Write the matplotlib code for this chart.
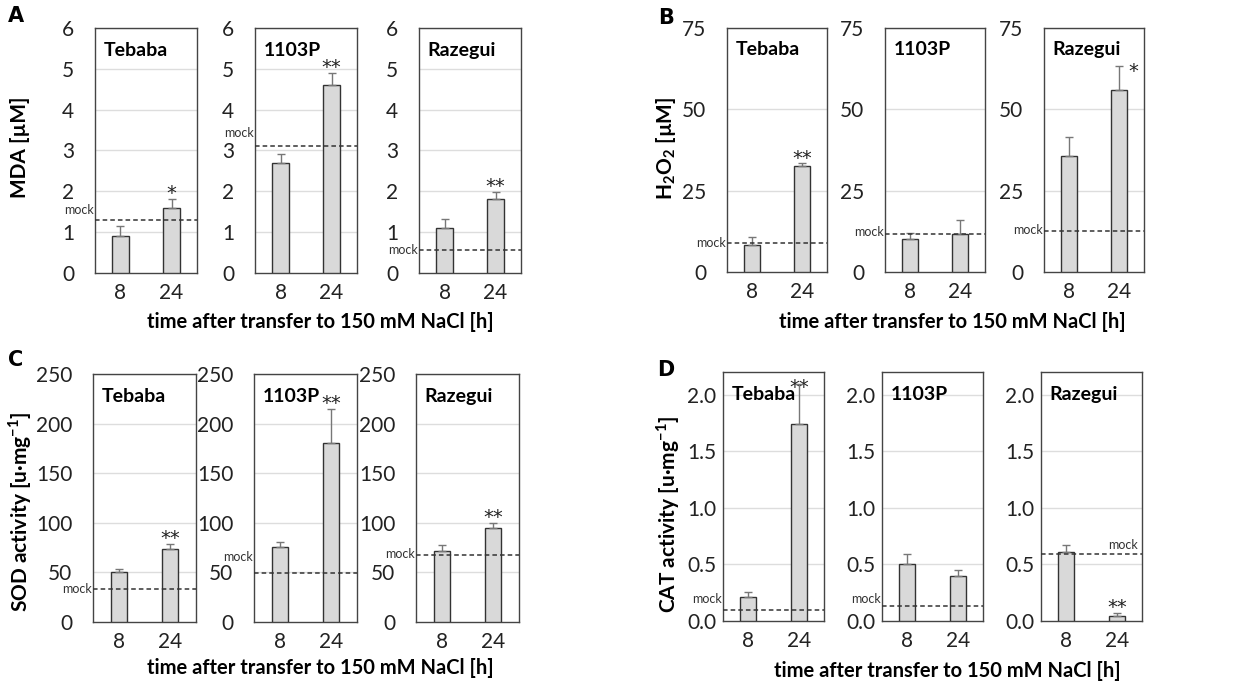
import numpy as np
import matplotlib
matplotlib.use('Agg')
import matplotlib.pyplot as plt

plt.rcParams['font.family'] = ['Lato', 'DejaVu Sans']
plt.rcParams['mathtext.fontset'] = 'custom'
plt.rcParams['mathtext.rm'] = 'Lato'
plt.rcParams['mathtext.bf'] = 'Lato:bold'

strains = ['Tebaba', '1103P', 'Razegui']
times = ['8', '24']

# A: MDA
mda_mean = [[0.91, 1.60], [2.70, 4.61], [1.11, 1.80]]
mda_err = [[0.24, 0.22], [0.22, 0.29], [0.22, 0.19]]
mda_mock = [1.31, 3.12, 0.57]
mda_sig = [['', '*'], ['', '**'], ['', '**']]

# B: H2O2
h2o2_mean = [[8.4, 32.5], [10.2, 11.8], [35.8, 55.8]]
h2o2_err = [[2.5, 0.9], [1.8, 4.1], [5.6, 7.6]]
h2o2_mock = [9.0, 11.8, 12.5]
h2o2_sig = [['', '**'], ['', ''], ['', '*']]

# C: SOD
sod_mean = [[50.5, 73.6], [75.3, 180.0], [72.0, 95.0]]
sod_err = [[2.8, 5.4], [5.4, 35.0], [6.0, 5.0]]
sod_mock = [33.0, 49.0, 67.6]
sod_sig = [['', '**'], ['', '**'], ['', '**']]

# D: CAT
cat_mean = [[0.215, 1.74], [0.50, 0.40], [0.61, 0.045]]
cat_err = [[0.045, 0.35], [0.09, 0.05], [0.06, 0.03]]
cat_mock = [0.10, 0.13, 0.59]
cat_sig = [['', '**'], ['', ''], ['', '**']]

W, H = 1238, 683
fig = plt.figure(figsize=(W / 100, H / 100), dpi=100)


def px_axes(left, top, width, bottom):
    return fig.add_axes([left / W, 1 - bottom / H, width / W, (bottom - top) / H])


def draw_panel(lefts, top, bottom, width, means, errs, mocks, sigs, ylim, yticks,
               fmt, mock_pos, ypad=15, star_right=(), star_dy=None):
    for i, name in enumerate(strains):
        ax = px_axes(lefts[i], top, width, bottom)
        x = np.arange(len(times))
        ax.bar(x, means[i], 0.32, color='#d9d9d9', edgecolor='#333333',
               linewidth=1.0, zorder=3,
               yerr=[[0, 0], errs[i]], error_kw=dict(ecolor='#777777', elinewidth=1,
                                                     capsize=3, capthick=1))
        ax.set_xlim(-0.5, 1.5)
        ax.set_ylim(*ylim)
        ax.set_yticks(yticks)
        ax.set_yticklabels([fmt.format(t) for t in yticks])
        ax.set_xticks(x)
        ax.set_xticklabels(times)
        ax.tick_params(length=0, labelsize=15, colors='#222222', pad=7)
        ax.tick_params(axis='y', pad=ypad)
        for t in yticks[1:]:
            ax.axhline(t, color='#dddddd', lw=1, zorder=0)
        for s in ax.spines.values():
            s.set_color('#444444')
            s.set_linewidth(1)
        ax.axhline(mocks[i], color='#333333', lw=1.1, ls=(0, (3, 2)), zorder=4)
        side, dy = mock_pos[i]
        if side == 'left':
            ax.annotate('mock', (-0.5, mocks[i]), xytext=(-1, dy), textcoords='offset points',
                        ha='right', va='center', fontsize=9, color='#333333',
                        annotation_clip=False)
        else:
            ax.annotate('mock', (1.5, mocks[i]), xytext=(-3, 7), textcoords='offset points',
                        ha='right', va='center', fontsize=9, color='#333333')
        ax.text(0.085, 0.91, name, transform=ax.transAxes, fontsize=14,
                fontweight='bold', va='center', ha='left')
        for j in range(len(times)):
            if sigs[i][j]:
                ytop = means[i][j] + errs[i][j]
                star = dict(fontsize=14, family='DejaVu Sans', color='#222222',
                            annotation_clip=False, textcoords='offset points')
                if (i, j) in star_right:
                    ax.annotate(sigs[i][j], (j, ytop), xytext=(7, -4),
                                ha='left', va='center', **star)
                else:
                    dy = star_dy.get((i, j), -3) if star_dy else -3
                    ax.annotate(sigs[i][j], (j, ytop), xytext=(0, dy),
                                ha='center', va='bottom', **star)


draw_panel([95, 255, 419], 28, 273, 102, mda_mean, mda_err, mda_mock, mda_sig,
           (0, 6), [0, 1, 2, 3, 4, 5, 6], '{:g}',
           [('left', 7), ('left', 9), ('left', 0)])
draw_panel([727, 885, 1044], 28, 272, 100, h2o2_mean, h2o2_err, h2o2_mock, h2o2_sig,
           (0, 75), [0, 25, 50, 75], '{:g}',
           [('left', 0), ('left', 1), ('left', 1)], star_right=[(2, 1)])
draw_panel([93, 254, 416], 374, 622, 103, sod_mean, sod_err, sod_mock, sod_sig,
           (0, 250), [0, 50, 100, 150, 200, 250], '{:g}',
           [('left', 0), ('left', 12), ('left', 1)])
draw_panel([723, 882, 1041], 372, 621, 101, cat_mean, cat_err, cat_mock, cat_sig,
           (0, 2.2), [0.0, 0.5, 1.0, 1.5, 2.0], '{:.1f}',
           [('left', 8), ('left', 5), ('right', 0)], ypad=5, star_dy={(0, 1): -9})

xlabel = 'time after transfer to 150 mM NaCl [h]'
lab = dict(fontsize=14.5, fontweight='bold', ha='center', va='center')
fig.text(320 / W, 1 - 322 / H, xlabel, **lab)
fig.text(952 / W, 1 - 322 / H, xlabel, **lab)
fig.text(320 / W, 1 - 668 / H, xlabel, **lab)
fig.text(947 / W, 1 - 671 / H, xlabel, **lab)

ylab = dict(fontsize=15, fontweight='bold', ha='center', va='center', rotation=90)
fig.text(20 / W, 1 - 147 / H, 'MDA [µM]', **ylab)
fig.text(666 / W, 1 - 148 / H, r'H$_\mathbf{2}$O$_\mathbf{2}$ [µM]', **ylab)
fig.text(20 / W, 1 - 512 / H, r'SOD activity [u·mg$^\mathbf{-1}$]', **ylab)
fig.text(668 / W, 1 - 515 / H, r'CAT activity [u·mg$^\mathbf{-1}$]', **ylab)

letters = dict(fontsize=15, fontweight='bold', ha='left', va='center', family='DejaVu Sans')
fig.text(8 / W, 1 - 16 / H, 'A', **letters)
fig.text(658 / W, 1 - 18 / H, 'B', **letters)
fig.text(8 / W, 1 - 360 / H, 'C', **letters)
fig.text(657 / W, 1 - 370 / H, 'D', **letters)

fig.savefig('out.png', dpi=100)
